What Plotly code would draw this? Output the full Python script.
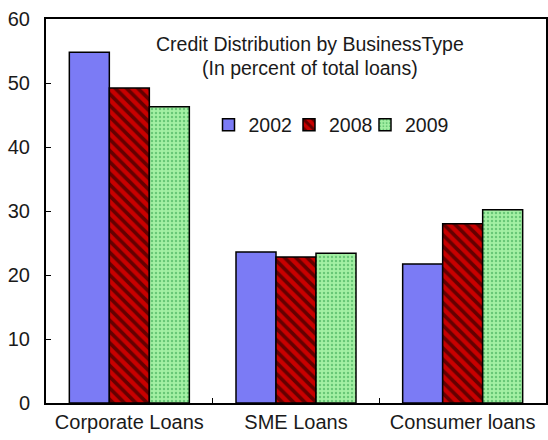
import plotly.graph_objects as go

categories = ["Corporate Loans", "SME Loans", "Consumer loans"]
years = ["2002", "2008", "2009"]
share_2002 = [54.8, 23.6, 21.7]
share_2008 = [49.2, 22.8, 28.0]
share_2009 = [46.3, 23.4, 30.2]
y_ticks = [0, 10, 20, 30, 40, 50, 60]
title_lines = ["Credit Distribution by BusinessType", "(In percent of total loans)"]

FONT = "Liberation Sans, Arial, sans-serif"
TEXT = "#1a1a1a"

styles = {
    "2002": dict(color="#7B7BF5", pattern=dict(shape="")),
    "2008": dict(color="#C80000",
                 pattern=dict(shape="\\", fgcolor="#000000", size=8, solidity=0.45)),
    "2009": dict(color="#A4F0A4",
                 pattern=dict(shape=".", fgcolor="#2E9E4A", size=4, solidity=0.3)),
}

# each year gets its own legend box so the entries can sit close together
legend_ids = ["legend", "legend2", "legend3"]
legend_x = [0.325, 0.486, 0.638]

fig = go.Figure()
for year, values, lg in zip(years, [share_2002, share_2008, share_2009], legend_ids):
    st = styles[year]
    fig.add_trace(go.Bar(
        x=categories, y=values, name=year, legend=lg,
        marker=dict(color=st["color"], pattern=st["pattern"],
                    line=dict(color="#000000", width=1.5)),
    ))

# two-line title inside the plot area, with tight line spacing
for line, ypos in zip(title_lines, [0.934, 0.873]):
    fig.add_annotation(
        text=line, xref="paper", yref="paper", x=0.528, y=ypos,
        xanchor="center", yanchor="middle", showarrow=False,
        font=dict(family=FONT, size=19.5, color=TEXT),
    )

legend_style = dict(orientation="h", y=0.724, xanchor="left", yanchor="middle",
                    bgcolor="rgba(0,0,0,0)", font=dict(size=19.5), itemwidth=30)

fig.update_layout(
    width=548, height=440,
    margin=dict(l=46, r=2, t=19, b=37, autoexpand=False),
    paper_bgcolor="white", plot_bgcolor="white",
    barmode="group", bargap=0.28, bargroupgap=0,
    font=dict(family=FONT, size=20, color=TEXT),
    showlegend=True,
    **{lg: dict(x=lx, **legend_style) for lg, lx in zip(legend_ids, legend_x)},
    xaxis=dict(showline=True, linecolor="#000000", linewidth=2, mirror=True,
               ticks="inside", tickson="boundaries", ticklen=5, tickcolor="#000000",
               showgrid=False, tickfont=dict(size=20), tickangle=0, automargin=False),
    yaxis=dict(range=[0, 60], tickvals=y_ticks, showline=True, linecolor="#000000",
               linewidth=2, mirror=True, ticks="inside", ticklen=5, tickcolor="#000000",
               showgrid=False, zeroline=False, tickfont=dict(size=20),
               ticklabelstandoff=10, automargin=False),
)

fig.write_html("out.html")
